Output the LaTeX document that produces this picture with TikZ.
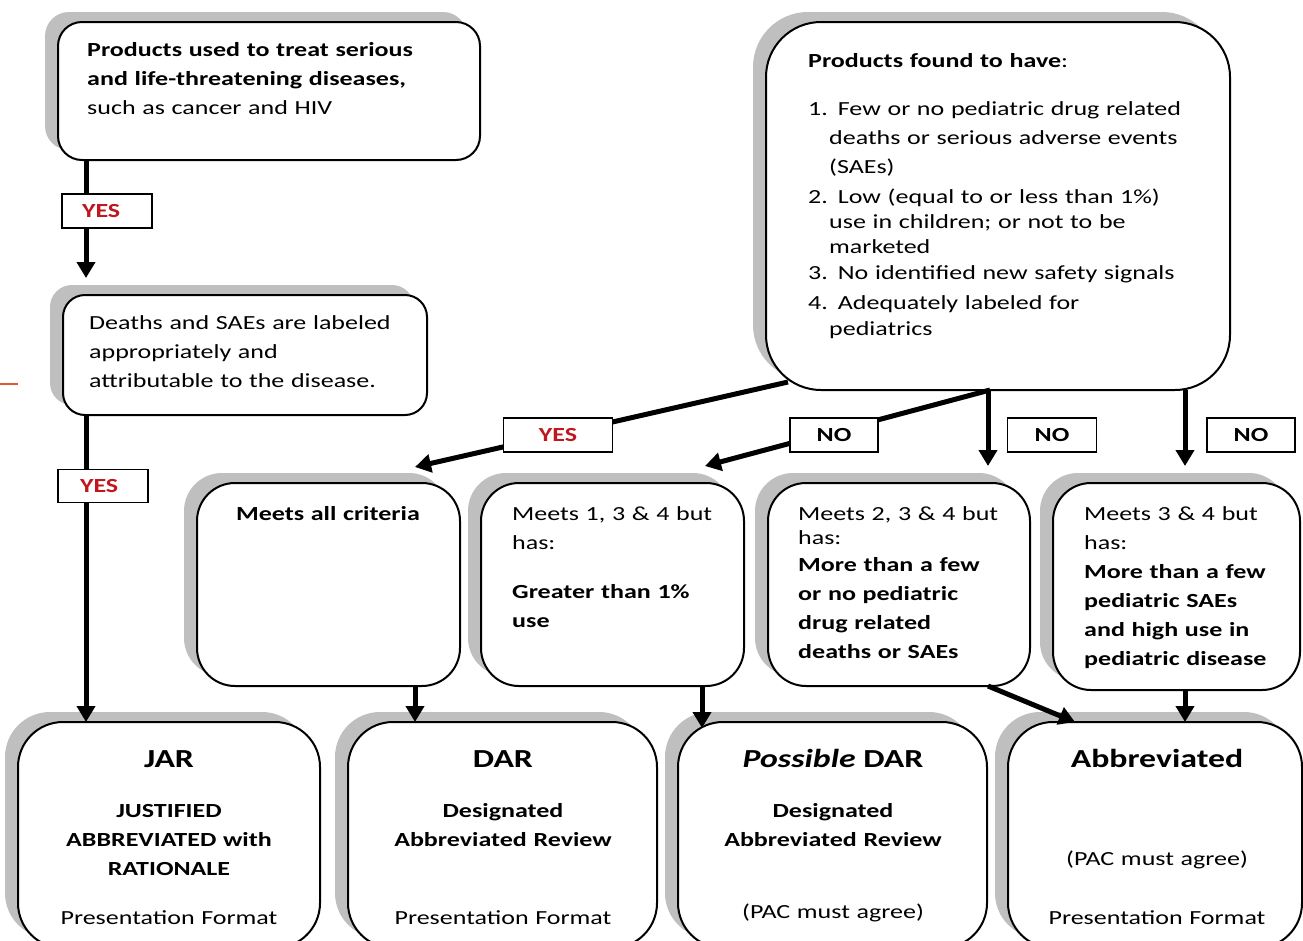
\documentclass[tikz,border=0pt]{standalone}
\usepackage{fontspec}
\setmainfont{Carlito}[FakeStretch=1.3]
\usetikzlibrary{arrows.meta,shadows}
\definecolor{shadowgrey}{HTML}{BFBFBF}
\definecolor{yesred}{HTML}{C0161D}
\definecolor{markorange}{HTML}{E2572B}
\begin{document}
\begin{tikzpicture}[x=1pt,y=-1pt,
  box/.style={draw=black, line width=2pt, fill=white, rounded corners=#1,
    inner sep=0pt, outer sep=0pt, anchor=north west,
    drop shadow={shadow xshift=-13pt, shadow yshift=10pt, fill=shadowgrey, opacity=1}},
  txt/.style={inner sep=0pt, align=left, text width=#1, anchor=base west,
    font=\fontsize{20}{29}\selectfont},
  ctxt/.style={inner sep=0pt, align=center, text width=#1, anchor=base,
    font=\fontsize{20}{29}\selectfont},
  head/.style={inner sep=0pt, anchor=base, font=\fontsize{26}{30}\selectfont\bfseries},
  arr/.style={line width=5pt, -{Triangle[width=18pt,length=16pt]}},
  lbl/.style={draw=black, line width=1.8pt, fill=white, inner sep=0pt,
    minimum height=34pt, font=\fontsize{20}{24}\selectfont\bfseries},
  yes/.style={lbl, text=yesred},
  no/.style={lbl, text=black}]
\clip (0,0) rectangle (1303,940);

% stray orange tick on the left margin
\draw[markorange, line width=2pt] (0,384) -- (18,384);

% question boxes
\node[box=24pt, minimum width=422pt, minimum height=138pt] (q1) at (58,22) {};
\node[box=22pt, minimum width=364pt, minimum height=120pt] (q2) at (63,295) {};
\node[box=55pt, minimum width=464pt, minimum height=368pt] (q3) at (766,22) {};

% criteria boxes
\node[box=38pt, minimum width=263pt, minimum height=203pt] (c1) at (197,483) {};
\node[box=38pt, minimum width=263pt, minimum height=203pt] (c2) at (481,483) {};
\node[box=38pt, minimum width=262pt, minimum height=203pt] (c3) at (768,483) {};
\node[box=38pt, minimum width=247pt, minimum height=207pt] (c4) at (1053,483) {};

% outcome boxes
\node[box=45pt, minimum width=302pt, minimum height=226pt] (r1) at (18,722) {};
\node[box=45pt, minimum width=309pt, minimum height=226pt] (r2) at (348,722) {};
\node[box=45pt, minimum width=309pt, minimum height=226pt] (r3) at (678,722) {};
\node[box=45pt, minimum width=294pt, minimum height=226pt] (r4) at (1008,722) {};

% texts of the question boxes
\node[txt=390pt] (q1t) at (87,56)
  {\textbf{Products used to treat serious}\\\textbf{and life-threatening diseases,}\\such as cancer and HIV};
\node[txt=350pt] (q2t) at (89,329)
  {Deaths and SAEs are labeled\\appropriately and\\attributable to the disease.};
\node[txt=420pt, font=\fontsize{20}{25}\selectfont] (q3t) at (808,67)
  {\textbf{Products found to have}:\\[23pt]
   1. Few or no pediatric drug related\\[4pt]
   \hspace*{21pt}deaths or serious adverse events\\[4pt]
   \hspace*{21pt}(SAEs)\\[5pt]
   2. Low (equal to or less than 1\%)\\
   \hspace*{21pt}use in children; or not to be\\
   \hspace*{21pt}marketed\\[1pt]
   3. No identified new safety signals\\[5pt]
   4. Adequately labeled for\\[1pt]
   \hspace*{21pt}pediatrics};

% texts of the criteria boxes
\node[ctxt=250pt] (c1t) at (328,520) {\textbf{Meets all criteria}};
\node[txt=250pt] (c2t) at (512,520)
  {Meets 1, 3 \& 4 but\\has:\\[20pt]\textbf{Greater than 1\%}\\\textbf{use}};
\node[txt=250pt] (c3t) at (798,520)
  {Meets 2, 3 \& 4 but\\[-5pt]has:\\[-2pt]\textbf{More than a few}\\\textbf{or no pediatric}\\\textbf{drug related}\\\textbf{deaths or SAEs}};
\node[txt=240pt] (c4t) at (1084,520)
  {Meets 3 \& 4 but\\has:\\\textbf{More than a few}\\\textbf{pediatric SAEs}\\\textbf{and high use in}\\\textbf{pediatric disease}};

% texts of the outcome boxes
\node[head] (r1h) at (169,767) {JAR};
\node[ctxt=290pt, font=\fontsize{20}{29}\selectfont\bfseries] (r1b) at (169,817)
  {JUSTIFIED\\ABBREVIATED with\\RATIONALE};
\node[ctxt=290pt] (r1f) at (169,924) {Presentation Format};

\node[head] (r2h) at (503,767) {DAR};
\node[ctxt=290pt, font=\fontsize{20}{29}\selectfont\bfseries] (r2b) at (503,817)
  {Designated\\Abbreviated Review};
\node[ctxt=290pt] (r2f) at (503,924) {Presentation Format};

\node[head] (r3h) at (833,767) {\textit{Possible} DAR};
\node[ctxt=290pt, font=\fontsize{20}{29}\selectfont\bfseries] (r3b) at (833,817)
  {Designated\\Abbreviated Review};
\node[ctxt=290pt] (r3f) at (833,918) {(PAC must agree)};

\node[head] (r4h) at (1157,767) {Abbreviated};
\node[ctxt=280pt] (r4m) at (1157,865) {(PAC must agree)};
\node[ctxt=280pt] (r4f) at (1157,924) {Presentation Format};

% connectors
\draw[arr] ([xshift=28pt]q1.south west) -- ([shift={(23,-17)}]q2.north west);
\draw[arr] ([xshift=23pt]q2.south west) -- ([xshift=68pt]r1.north west);
\draw[arr] ([shift={(22,-8)}]q3.south west) -- ([shift={(218,-16)}]c1.north west);
\draw[arr] ([xshift=224pt]q3.south west) -- ([shift={(224,-17)}]c2.north west);
\draw[arr] ([xshift=222pt]q3.south west) -- ([shift={(220,-17)}]c3.north west);
\draw[arr] ([xshift=419pt]q3.south west) -- ([shift={(132,-17)}]c4.north west);
\draw[arr] ([xshift=218pt]c1.south west) -- ([xshift=67pt]r2.north west);
\draw[arr] ([xshift=221pt]c2.south west) -- ([shift={(24,6)}]r3.north west);
\draw[arr] ([xshift=220pt]c3.south west) -- ([xshift=67pt]r4.north west);
\draw[arr] ([xshift=132pt]c4.south west) -- ([xshift=177pt]r4.north west);

% answer labels
\node[yes, minimum width=90pt, text width=50pt, align=left] (y1) at (107,211) {YES};
\node[yes, minimum width=90pt, minimum height=33pt, text width=46pt, align=left] (y2) at (103,486) {YES};
\node[yes, minimum width=109pt] (y3) at (558,435) {YES};
\node[no, minimum width=88pt] (n1) at (834,435) {NO};
\node[no, minimum width=89pt] (n2) at (1052,435) {NO};
\node[no, minimum width=88pt] (n3) at (1251,435) {NO};
\end{tikzpicture}
\end{document}
